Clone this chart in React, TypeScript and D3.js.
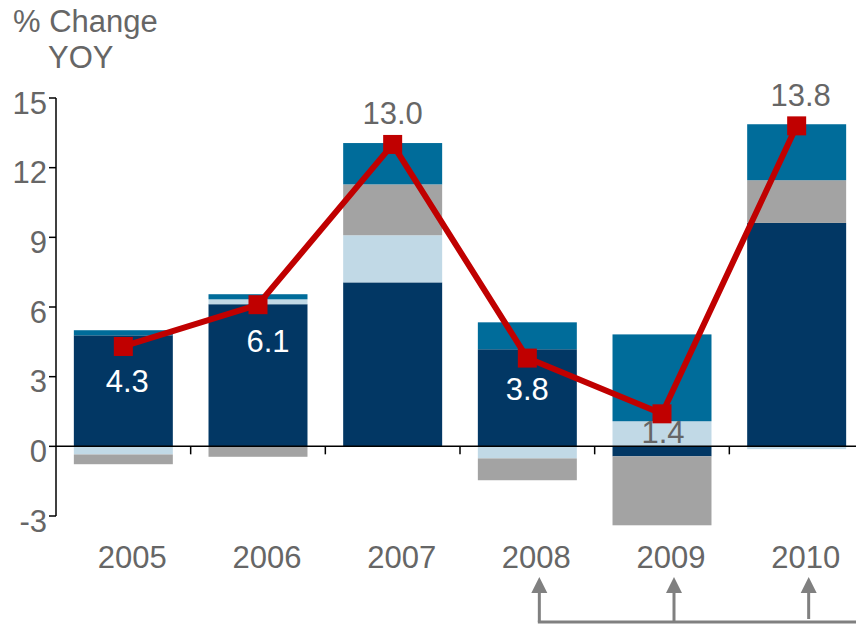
import React from "react";
import * as d3 from "d3";

// ---- data ----
const years = ["2005", "2006", "2007", "2008", "2009", "2010"];
const seriesNavy = [4.78, 6.12, 7.06, 4.18, -0.43, 9.62];
const seriesLightBlue = [-0.35, 0.21, 2.03, -0.52, 1.08, -0.12];
const seriesGray = [-0.42, -0.45, 2.19, -0.94, -2.97, 1.84];
const seriesTeal = [0.22, 0.22, 1.78, 1.16, 3.74, 2.41];
const totalChange = [4.3, 6.1, 13.0, 3.8, 1.4, 13.8];
const yTicks = [-3, 0, 3, 6, 9, 12, 15];
const arrowYears = ["2008", "2009", "2010"];

// ---- styles (not data) ----
const keys = ["navy", "lightBlue", "gray", "teal"];
const colors: Record<string, string> = {
  navy: "#023764",
  lightBlue: "#C1D9E6",
  gray: "#A3A3A3",
  teal: "#006C9A",
};
const labelFill = ["#fff", "#fff", "#666", "#fff", "#666", "#666"];
const labelDx = [4, 10, 0, 0, 1, 4];
const labelDy = [46, 47, -20, 42, 29, -20];

const W = 856;
const H = 625;
const FONT = "'Liberation Sans', Arial, sans-serif";
const TXT = "#666666";
const FS = 31;

export default function App() {
  const rows = years.map((yr, i) => ({
    year: yr,
    navy: seriesNavy[i],
    lightBlue: seriesLightBlue[i],
    gray: seriesGray[i],
    teal: seriesTeal[i],
  }));
  const stacked = d3
    .stack<any>()
    .keys(keys)
    .offset(d3.stackOffsetDiverging)(rows);

  const x = d3
    .scaleBand<string>()
    .domain(years)
    .range([56, 864])
    .paddingInner(0.265)
    .paddingOuter(0.1325);
  const y = d3.scaleLinear().domain([-3, 15]).range([516, 98]);
  const cx = (yr: string) => (x(yr) as number) + x.bandwidth() / 2;
  const step = x.step();
  const x0 = 56;

  const line = d3
    .line<number>()
    .x((_, i) => cx(years[i]))
    .y((d) => y(d));

  const ms = 19;
  const arrowColor = "#808080";
  const arrowXs = arrowYears.map((yr) => cx(yr) + 12);

  return (
    <svg
      width={W}
      height={H}
      style={{ position: "absolute", left: 0, top: 0, background: "#fff" }}
      fontFamily={FONT}
    >
      {/* title */}
      <text x={13} y={32} fontSize={FS} fill={TXT}>
        % Change
      </text>
      <text x={48} y={68} fontSize={FS} fill={TXT}>
        YOY
      </text>

      {/* bars */}
      {stacked.map((s) => (
        <g key={s.key} fill={colors[s.key]}>
          {s.map((d, i) => (
            <rect
              key={i}
              x={x(years[i])}
              width={x.bandwidth()}
              y={y(Math.max(d[0], d[1]))}
              height={Math.abs(y(d[0]) - y(d[1]))}
            />
          ))}
        </g>
      ))}

      {/* y axis */}
      <line x1={x0} x2={x0} y1={y(15)} y2={y(-3)} stroke="#000" strokeWidth={1.5} />
      {yTicks.map((t) => (
        <g key={t}>
          <line x1={x0 - 7} x2={x0} y1={y(t)} y2={y(t)} stroke="#000" strokeWidth={1.5} />
          <text
            x={47}
            y={y(t)}
            dy="0.5em"
            textAnchor="end"
            fontSize={FS}
            fill={TXT}
          >
            {t}
          </text>
        </g>
      ))}

      {/* x axis */}
      <line x1={x0} x2={W} y1={y(0)} y2={y(0)} stroke="#000" strokeWidth={1.5} />
      {years.map((yr, i) => (
        <line
          key={yr}
          x1={x0 + step * (i + 1)}
          x2={x0 + step * (i + 1)}
          y1={y(0)}
          y2={y(0) + 8}
          stroke="#000"
          strokeWidth={1.5}
        />
      ))}
      {years.map((yr) => (
        <text
          key={yr}
          x={cx(yr) + 9}
          y={568}
          textAnchor="middle"
          fontSize={FS}
          fill={TXT}
        >
          {yr}
        </text>
      ))}

      {/* line */}
      <path
        d={line(totalChange) as string}
        fill="none"
        stroke="#C00000"
        strokeWidth={6}
        strokeLinejoin="round"
      />
      {totalChange.map((v, i) => (
        <rect
          key={i}
          x={cx(years[i]) - ms / 2}
          y={y(v) - ms / 2}
          width={ms}
          height={ms}
          fill="#C00000"
        />
      ))}
      {totalChange.map((v, i) => (
        <text
          key={i}
          x={cx(years[i]) + labelDx[i]}
          y={y(v) + labelDy[i]}
          textAnchor="middle"
          fontSize={FS}
          fill={labelFill[i]}
        >
          {v.toFixed(1)}
        </text>
      ))}

      {/* arrows */}
      <line
        x1={arrowXs[0] - 1.5}
        x2={W}
        y1={622}
        y2={622}
        stroke={arrowColor}
        strokeWidth={3}
      />
      {arrowXs.map((ax, i) => (
        <g key={i}>
          <line
            x1={ax}
            x2={ax}
            y1={592}
            y2={i === arrowXs.length - 1 ? 619 : 622}
            stroke={arrowColor}
            strokeWidth={3}
          />
          <path
            d={`M${ax},577 L${ax + 8},593 L${ax - 8},593 Z`}
            fill={arrowColor}
          />
        </g>
      ))}
    </svg>
  );
}
